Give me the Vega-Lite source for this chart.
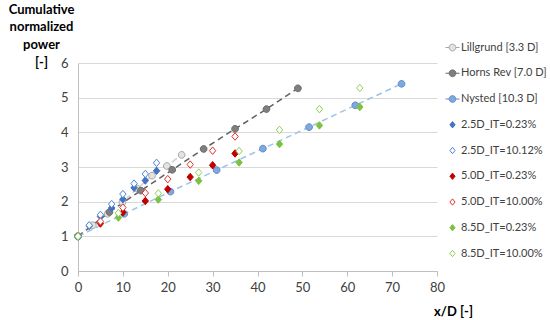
{
  "$schema": "https://vega.github.io/schema/vega-lite/v6.json",
  "width": 359,
  "height": 208,
  "autosize": {"type": "none"},
  "padding": {"left": 78, "top": 63, "right": 113, "bottom": 49},
  "background": "white",
  "config": {
    "font": "Lato",
    "view": {"stroke": null},
    "legend": {
      "orient": "none",
      "legendX": 367,
      "legendY": -23,
      "symbolSize": 196,
      "rowPadding": 12.75,
      "labelFontSize": 11,
      "labelOffset": 1,
      "labelColor": "#404040",
      "symbolStrokeWidth": 1,
      "padding": 0
    }
  },
  "datasets": {
    "pts": [
      {"series": "Lillgrund [3.3 D]", "x": 0, "y": 1},
      {"series": "Lillgrund [3.3 D]", "x": 3.3, "y": 1.32},
      {"series": "Lillgrund [3.3 D]", "x": 6.6, "y": 1.65},
      {"series": "Lillgrund [3.3 D]", "x": 9.9, "y": 1.98},
      {"series": "Lillgrund [3.3 D]", "x": 13.2, "y": 2.38},
      {"series": "Lillgrund [3.3 D]", "x": 16.5, "y": 2.75},
      {"series": "Lillgrund [3.3 D]", "x": 19.8, "y": 3.03},
      {"series": "Lillgrund [3.3 D]", "x": 23.1, "y": 3.35},
      {"series": "Horns Rev [7.0 D]", "x": 0, "y": 1},
      {"series": "Horns Rev [7.0 D]", "x": 7, "y": 1.70},
      {"series": "Horns Rev [7.0 D]", "x": 14, "y": 2.32},
      {"series": "Horns Rev [7.0 D]", "x": 21, "y": 2.92},
      {"series": "Horns Rev [7.0 D]", "x": 28, "y": 3.52},
      {"series": "Horns Rev [7.0 D]", "x": 35, "y": 4.10},
      {"series": "Horns Rev [7.0 D]", "x": 42, "y": 4.67},
      {"series": "Horns Rev [7.0 D]", "x": 49, "y": 5.27},
      {"series": "Nysted [10.3 D]", "x": 0, "y": 1},
      {"series": "Nysted [10.3 D]", "x": 10.3, "y": 1.65},
      {"series": "Nysted [10.3 D]", "x": 20.6, "y": 2.29},
      {"series": "Nysted [10.3 D]", "x": 30.9, "y": 2.91},
      {"series": "Nysted [10.3 D]", "x": 41.2, "y": 3.53},
      {"series": "Nysted [10.3 D]", "x": 51.5, "y": 4.15},
      {"series": "Nysted [10.3 D]", "x": 61.8, "y": 4.78},
      {"series": "Nysted [10.3 D]", "x": 72.1, "y": 5.40},
      {"series": "2.5D_IT=0.23%", "x": 0, "y": 1},
      {"series": "2.5D_IT=0.23%", "x": 2.5, "y": 1.30},
      {"series": "2.5D_IT=0.23%", "x": 5, "y": 1.57},
      {"series": "2.5D_IT=0.23%", "x": 7.5, "y": 1.82},
      {"series": "2.5D_IT=0.23%", "x": 10, "y": 2.07},
      {"series": "2.5D_IT=0.23%", "x": 12.5, "y": 2.40},
      {"series": "2.5D_IT=0.23%", "x": 15, "y": 2.61},
      {"series": "2.5D_IT=0.23%", "x": 17.5, "y": 2.89},
      {"series": "2.5D_IT=10.12%", "x": 0, "y": 1},
      {"series": "2.5D_IT=10.12%", "x": 2.5, "y": 1.32},
      {"series": "2.5D_IT=10.12%", "x": 5, "y": 1.62},
      {"series": "2.5D_IT=10.12%", "x": 7.5, "y": 1.93},
      {"series": "2.5D_IT=10.12%", "x": 10, "y": 2.22},
      {"series": "2.5D_IT=10.12%", "x": 12.5, "y": 2.52},
      {"series": "2.5D_IT=10.12%", "x": 15, "y": 2.80},
      {"series": "2.5D_IT=10.12%", "x": 17.5, "y": 3.12},
      {"series": "5.0D_IT=0.23%", "x": 0, "y": 1},
      {"series": "5.0D_IT=0.23%", "x": 5, "y": 1.37},
      {"series": "5.0D_IT=0.23%", "x": 10, "y": 1.69},
      {"series": "5.0D_IT=0.23%", "x": 15, "y": 2.02},
      {"series": "5.0D_IT=0.23%", "x": 20, "y": 2.36},
      {"series": "5.0D_IT=0.23%", "x": 25, "y": 2.71},
      {"series": "5.0D_IT=0.23%", "x": 30, "y": 3.05},
      {"series": "5.0D_IT=0.23%", "x": 35, "y": 3.39},
      {"series": "5.0D_IT=10.00%", "x": 0, "y": 1},
      {"series": "5.0D_IT=10.00%", "x": 5, "y": 1.43},
      {"series": "5.0D_IT=10.00%", "x": 10, "y": 1.83},
      {"series": "5.0D_IT=10.00%", "x": 15, "y": 2.25},
      {"series": "5.0D_IT=10.00%", "x": 20, "y": 2.65},
      {"series": "5.0D_IT=10.00%", "x": 25, "y": 3.07},
      {"series": "5.0D_IT=10.00%", "x": 30, "y": 3.47},
      {"series": "5.0D_IT=10.00%", "x": 35, "y": 3.88},
      {"series": "8.5D_IT=0.23%", "x": 0, "y": 1},
      {"series": "8.5D_IT=0.23%", "x": 9, "y": 1.54},
      {"series": "8.5D_IT=0.23%", "x": 17.9, "y": 2.06},
      {"series": "8.5D_IT=0.23%", "x": 26.9, "y": 2.60},
      {"series": "8.5D_IT=0.23%", "x": 35.9, "y": 3.13},
      {"series": "8.5D_IT=0.23%", "x": 44.9, "y": 3.66},
      {"series": "8.5D_IT=0.23%", "x": 53.8, "y": 4.20},
      {"series": "8.5D_IT=0.23%", "x": 62.8, "y": 4.73},
      {"series": "8.5D_IT=10.00%", "x": 0, "y": 1},
      {"series": "8.5D_IT=10.00%", "x": 9, "y": 1.67},
      {"series": "8.5D_IT=10.00%", "x": 17.9, "y": 2.24},
      {"series": "8.5D_IT=10.00%", "x": 26.9, "y": 2.84},
      {"series": "8.5D_IT=10.00%", "x": 35.9, "y": 3.46},
      {"series": "8.5D_IT=10.00%", "x": 44.9, "y": 4.07},
      {"series": "8.5D_IT=10.00%", "x": 53.8, "y": 4.67},
      {"series": "8.5D_IT=10.00%", "x": 62.8, "y": 5.28}
    ]
  },
  "data": {"name": "pts"},
  "encoding": {
    "x": {
      "field": "x", "type": "quantitative",
      "scale": {"domain": [0, 80], "nice": false},
      "axis": {
        "values": [0, 10, 20, 30, 40, 50, 60, 70, 80],
        "title": "x/D [-]",
        "titleFontWeight": "bold", "titleFontSize": 13, "titleColor": "#000000",
        "titleX": 375, "titleY": 40, "titleAlign": "center", "titleBaseline": "middle", "titleAnchor": null,
        "grid": false,
        "domainColor": "#bfbfbf", "tickColor": "#bfbfbf", "tickSize": 5,
        "labelPadding": 5, "labelFontSize": 13, "labelColor": "#404040", "labelFlush": false
      }
    },
    "y": {
      "field": "y", "type": "quantitative",
      "scale": {"domain": [0, 6], "nice": false},
      "axis": {
        "values": [0, 1, 2, 3, 4, 5, 6],
        "title": ["Cumulative", "normalized", "power", "[-]"],
        "titleAngle": 0, "titleAlign": "center", "titleBaseline": "top",
        "titleX": -37, "titleY": -60, "titleFontSize": 13, "titleFontWeight": "bold",
        "titleLineHeight": 17.7, "titleColor": "#000000",
        "ticks": false, "labelPadding": 10,
        "gridColor": "#d9d9d9", "domainColor": "#bfbfbf",
        "labelFontSize": 13, "labelColor": "#404040"
      }
    }
  },
  "layer": [
    {
      "transform": [{"filter": {"field": "series", "oneOf": ["Lillgrund [3.3 D]", "Horns Rev [7.0 D]", "Nysted [10.3 D]"]}}],
      "mark": {"type": "line", "strokeWidth": 1.5, "strokeDash": [6, 4]},
      "encoding": {
        "color": {
          "field": "series", "type": "nominal",
          "scale": {"domain": ["Lillgrund [3.3 D]", "Horns Rev [7.0 D]", "Nysted [10.3 D]"], "range": ["#d0d0d0", "#606060", "#9dc3e6"]},
          "legend": null
        }
      }
    },
    {
      "mark": {"type": "point", "opacity": 1, "strokeWidth": 1, "size": 56},
      "encoding": {
        "shape": {
          "field": "series", "type": "nominal",
          "scale": {
            "domain": ["Lillgrund [3.3 D]", "Horns Rev [7.0 D]", "Nysted [10.3 D]", "2.5D_IT=0.23%", "2.5D_IT=10.12%", "5.0D_IT=0.23%", "5.0D_IT=10.00%", "8.5D_IT=0.23%", "8.5D_IT=10.00%"],
            "range": ["M0.9,0A0.9,0.9 0 1,1 -0.9,0A0.9,0.9 0 1,1 0.9,0Z", "M0.9,0A0.9,0.9 0 1,1 -0.9,0A0.9,0.9 0 1,1 0.9,0Z", "M0.9,0A0.9,0.9 0 1,1 -0.9,0A0.9,0.9 0 1,1 0.9,0Z", "M0,-1L0.85,0L0,1L-0.85,0Z", "M0,-1L0.85,0L0,1L-0.85,0Z", "M0,-1L0.85,0L0,1L-0.85,0Z", "M0,-1L0.85,0L0,1L-0.85,0Z", "M0,-1L0.85,0L0,1L-0.85,0Z", "M0,-1L0.85,0L0,1L-0.85,0Z"]
          },
          "legend": null
        },
        "fill": {
          "field": "series", "type": "nominal",
          "scale": {
            "domain": ["Lillgrund [3.3 D]", "Horns Rev [7.0 D]", "Nysted [10.3 D]", "2.5D_IT=0.23%", "2.5D_IT=10.12%", "5.0D_IT=0.23%", "5.0D_IT=10.00%", "8.5D_IT=0.23%", "8.5D_IT=10.00%"],
            "range": ["#e3e3e3", "#7f7f7f", "#80a8dd", "#4472c4", "#ffffff", "#c00000", "#ffffff", "#7cc242", "#ffffff"]
          },
          "legend": null
        },
        "stroke": {
          "field": "series", "type": "nominal",
          "scale": {
            "domain": ["Lillgrund [3.3 D]", "Horns Rev [7.0 D]", "Nysted [10.3 D]", "2.5D_IT=0.23%", "2.5D_IT=10.12%", "5.0D_IT=0.23%", "5.0D_IT=10.00%", "8.5D_IT=0.23%", "8.5D_IT=10.00%"],
            "range": ["#a6a6a6", "#6a6a6a", "#5b8bd0", "#4472c4", "#4a86d8", "#c00000", "#e8302a", "#7cc242", "#92d050"]
          },
          "legend": null
        }
      }
    },
    {
      "transform": [{"filter": "datum.x < 0"}],
      "mark": {"type": "point", "opacity": 1, "strokeWidth": 1, "size": 196},
      "encoding": {
        "shape": {
          "field": "series", "type": "nominal",
          "scale": {
            "domain": ["Lillgrund [3.3 D]", "Horns Rev [7.0 D]", "Nysted [10.3 D]", "2.5D_IT=0.23%", "2.5D_IT=10.12%", "5.0D_IT=0.23%", "5.0D_IT=10.00%", "8.5D_IT=0.23%", "8.5D_IT=10.00%"],
            "range": ["M-1,0L-0.48,0M0.48,0L1,0M0.48,0A0.48,0.48 0 1,1 -0.48,0A0.48,0.48 0 1,1 0.48,0Z", "M-1,0L-0.48,0M0.48,0L1,0M0.48,0A0.48,0.48 0 1,1 -0.48,0A0.48,0.48 0 1,1 0.48,0Z", "M-1,0L-0.48,0M0.48,0L1,0M0.48,0A0.48,0.48 0 1,1 -0.48,0A0.48,0.48 0 1,1 0.48,0Z", "M0,-0.45L0.37,0L0,0.45L-0.37,0Z", "M0,-0.45L0.37,0L0,0.45L-0.37,0Z", "M0,-0.45L0.37,0L0,0.45L-0.37,0Z", "M0,-0.45L0.37,0L0,0.45L-0.37,0Z", "M0,-0.45L0.37,0L0,0.45L-0.37,0Z", "M0,-0.45L0.37,0L0,0.45L-0.37,0Z"]
          },
          "legend": {"title": null}
        },
        "fill": {
          "field": "series", "type": "nominal",
          "scale": {
            "domain": ["Lillgrund [3.3 D]", "Horns Rev [7.0 D]", "Nysted [10.3 D]", "2.5D_IT=0.23%", "2.5D_IT=10.12%", "5.0D_IT=0.23%", "5.0D_IT=10.00%", "8.5D_IT=0.23%", "8.5D_IT=10.00%"],
            "range": ["#e3e3e3", "#7f7f7f", "#80a8dd", "#4472c4", "#ffffff", "#c00000", "#ffffff", "#7cc242", "#ffffff"]
          },
          "legend": {"title": null}
        },
        "stroke": {
          "field": "series", "type": "nominal",
          "scale": {
            "domain": ["Lillgrund [3.3 D]", "Horns Rev [7.0 D]", "Nysted [10.3 D]", "2.5D_IT=0.23%", "2.5D_IT=10.12%", "5.0D_IT=0.23%", "5.0D_IT=10.00%", "8.5D_IT=0.23%", "8.5D_IT=10.00%"],
            "range": ["#a6a6a6", "#6a6a6a", "#5b8bd0", "#4472c4", "#4a86d8", "#c00000", "#e8302a", "#7cc242", "#92d050"]
          },
          "legend": {"title": null}
        }
      }
    }
  ],
  "resolve": {"scale": {"shape": "independent", "fill": "independent", "stroke": "independent"}}
}
